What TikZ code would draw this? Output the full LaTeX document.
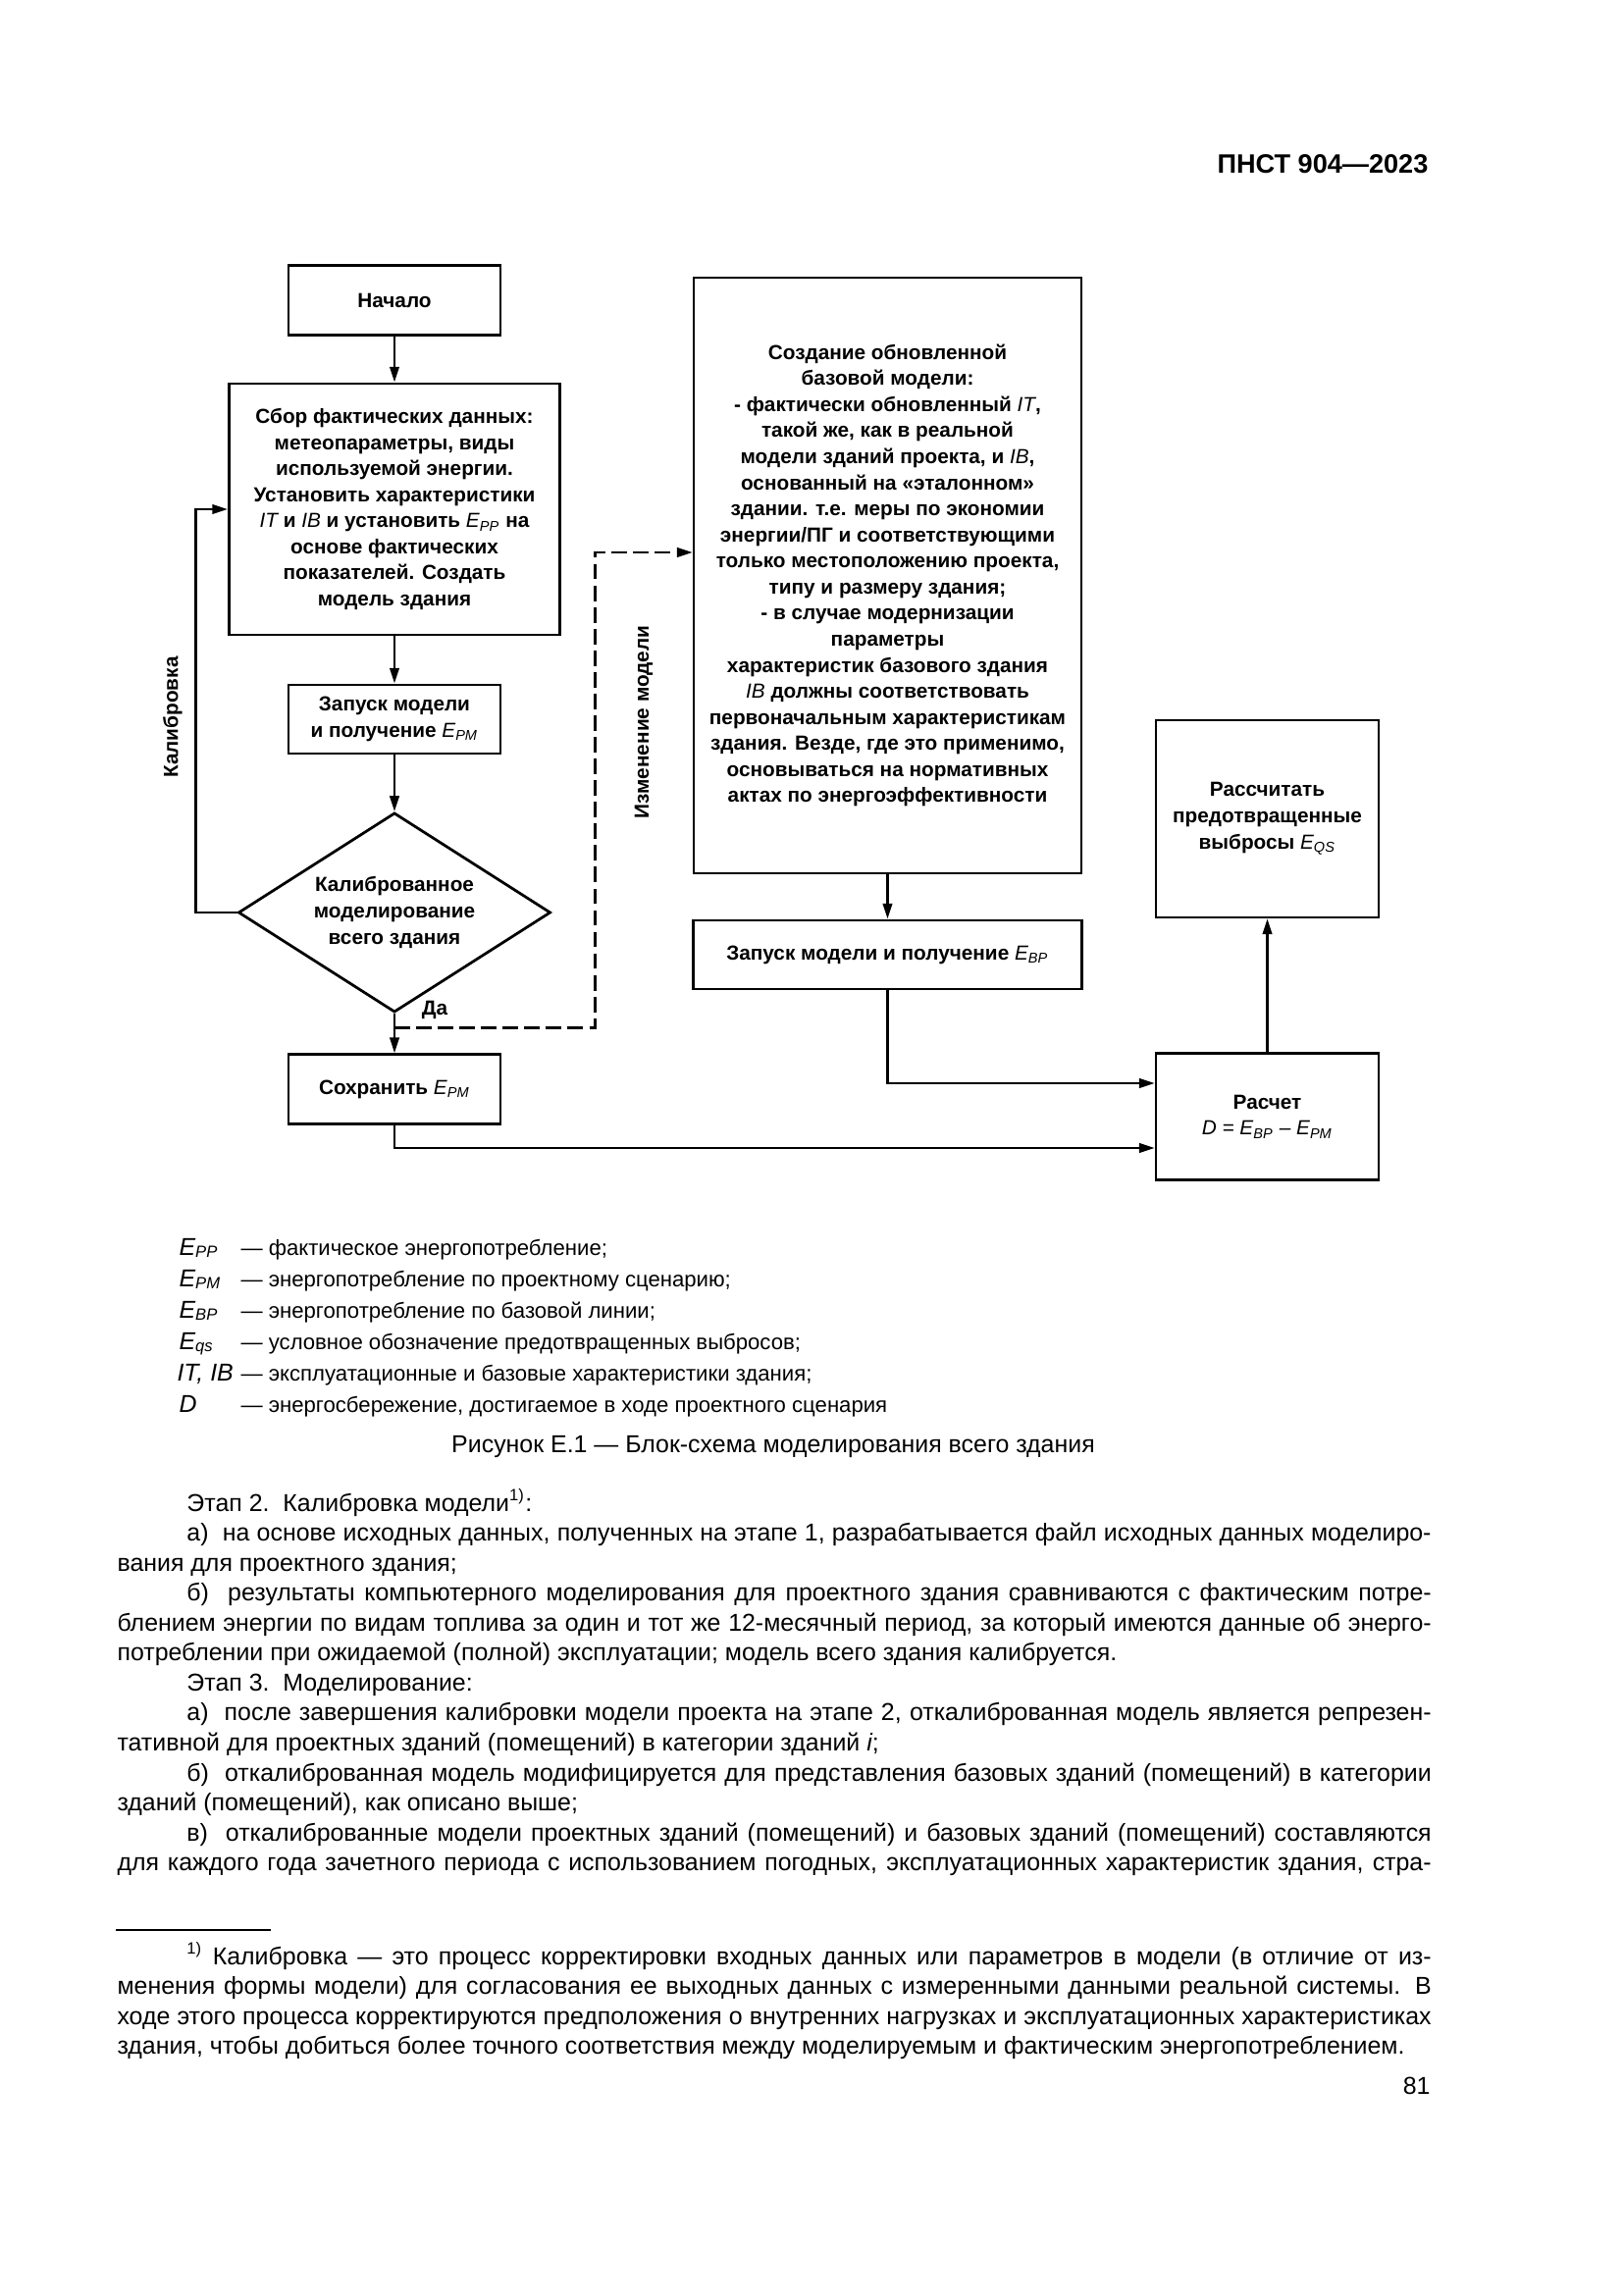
\documentclass[tikz,border=0pt]{standalone}
\usepackage{fontspec}
\setmainfont{Liberation Sans}
\usetikzlibrary{arrows.meta, positioning, shapes.geometric, calc}

\newcommand\flowfont{\fontsize{7.5}{9.6}\selectfont\bfseries}
\newcommand\bodyfont{\fontsize{9}{11.04}\selectfont}
\newcommand\legfont{\fontsize{8}{10}\selectfont}
\newcommand\sym[2]{{\mdseries\itshape #1\textsubscript{#2}}}
\newcommand\iv[1]{{\mdseries\itshape #1}}
\newdimen\textw \textw=170mm
\newdimen\bodyindent \bodyindent=9mm
\newcommand\fline[1]{\hbox to\textw{#1}}
\newcommand\iline[1]{\hbox to\textw{\hskip\bodyindent\relax #1}}
\newcommand\lline[1]{\hbox{#1}}
\newcommand\ilast[1]{\hbox{\hskip\bodyindent\relax #1}}

\tikzset{
  box/.style={draw, line width=1pt, align=center, inner sep=0pt, font=\flowfont},
  arr/.style={line width=0.9pt, -{Triangle[length=2mm,width=1.2mm]}},
  dasharr/.style={arr, dash pattern=on 2mm off 0.8mm},
  label/.style={font=\flowfont, inner sep=0pt},
  legsym/.style={anchor=base west, inner sep=0pt, font=\bodyfont},
  legtext/.style={anchor=base west, inner sep=0pt, font=\legfont},
}

\begin{document}
\begin{tikzpicture}[x=0.12696mm, y=-0.12696mm]
  \fill[white] (0,0) rectangle (1654,2339);
  \path[use as bounding box] (0,0) rectangle (1654,2339);

  % page header
  \node[anchor=base east, inner sep=0pt, font=\fontsize{9.8}{12}\selectfont\bfseries] (head) at (1456,177) {ПНСТ 904—2023};

  % left column
  \node[box, minimum width=27.4mm, minimum height=9mm] (start) at (402,306) {Начало};
  \node[box, minimum width=42.8mm, minimum height=32.5mm] (collect) at (402,519)
    {Сбор фактических данных:\\метеопараметры, виды\\используемой энергии.\\Установить характеристики\\\iv{IT} и \iv{IB} и установить \sym{E}{PP} на\\основе фактических\\показателей. Создать\\модель здания};
  \node[box, minimum width=27.4mm, minimum height=8.9mm] (runpm) at (402,733) {Запуск модели\\и получение \sym{E}{PM}};
  \node[box, diamond, aspect=1.57, minimum width=40.4mm, minimum height=25.8mm] (calib) at (402,930)
    {Калиброванное\\моделирование\\всего здания};
  \node[box, minimum width=27.4mm, minimum height=9mm] (save) at (402,1110) {Сохранить \sym{E}{PM}};

  % right column
  \node[box, line width=0.8pt, minimum width=50.2mm, minimum height=77.1mm] (base) at (904.5,586.5)
    {Создание обновленной\\базовой модели:\\- фактически обновленный \iv{IT},\\такой же, как в реальной\\модели зданий проекта, и \iv{IB},\\основанный на «эталонном»\\здании. т.е. меры по экономии\\энергии/ПГ и соответствующими\\только местоположению проекта,\\типу и размеру здания;\\- в случае модернизации\\параметры\\характеристик базового здания\\\iv{IB} должны соответствовать\\первоначальным характеристикам\\здания. Везде, где это применимо,\\основываться на нормативных\\актах по энергоэффективности};
  \node[box, minimum width=50.2mm, minimum height=8.9mm] (runbp) at (904.5,973) {Запуск модели и получение \sym{E}{BP}};
  \node[box, minimum width=28.8mm, minimum height=25.5mm] (avoid) at (1291.5,834.5) {Рассчитать\\предотвращенные\\выбросы \sym{E}{QS}};
  \node[box, minimum width=28.8mm, minimum height=16.3mm] (diff) at (1291.5,1138)
    {Расчет\\{\mdseries\itshape D = E\textsubscript{BP} – E\textsubscript{PM}}};

  % labels
  \node[label, rotate=90] (callab) at (176,731) {Калибровка};
  \node[label, rotate=90] (modlab) at (656,736) {Изменение модели};
  \node[label] (yes) at (443,1029) {Да};

  % connectors
  \draw[arr] (start) -- (collect);
  \draw[arr] (collect) -- (runpm);
  \draw[arr] (runpm) -- (calib);
  \draw[arr] (calib) -- (save);
  \draw[arr] (calib.west) -- ++(-42,0) |- (collect.west);
  \coordinate (branch) at ($(calib.south)!0.36!(save.north)$);
  \coordinate (modin) at (base.west |- 0,563);
  \draw[dasharr] (branch) -| ($(modin)+(-99,0)$) -- (modin);
  \draw[arr] (base) -- (runbp);
  \coordinate (bpin) at (diff.west |- 0,1104);
  \coordinate (pmin) at (diff.west |- 0,1170);
  \draw[arr] (runbp.south) |- (bpin);
  \draw[arr] (save.south) |- (pmin);
  \draw[arr] (diff) -- (avoid);

  % legend
  \node[legsym] (lpp) at (182,1279) {\sym{E}{PP}};
  \node[legtext] (lppt) at (245,1279) {— фактическое энергопотребление;};
  \node[legsym] (lpm) at (182,1311) {\sym{E}{PM}};
  \node[legtext] (lpmt) at (245,1311) {— энергопотребление по проектному сценарию;};
  \node[legsym] (lbp) at (182,1343) {\sym{E}{BP}};
  \node[legtext] (lbpt) at (245,1343) {— энергопотребление по базовой линии;};
  \node[legsym] (lqs) at (182,1375) {\sym{E}{qs}};
  \node[legtext] (lqst) at (245,1375) {— условное обозначение предотвращенных выбросов;};
  \node[legsym] (lit) at (180,1407) {\iv{IT, IB}};
  \node[legtext] (litt) at (245,1407) {— эксплуатационные и базовые характеристики здания;};
  \node[legsym] (ld) at (182,1439) {\iv{D}};
  \node[legtext] (ldt) at (245,1439) {— энергосбережение, достигаемое в ходе проектного сценария};

  % caption
  \node[anchor=base, inner sep=0pt, font=\bodyfont] (caption) at (788,1480)
    {Рисунок Е.1 — Блок-схема моделирования всего здания};

  % body text
  \node[anchor=base west, inner sep=0pt, font=\bodyfont] (body) at (119,1540) {\vtop{%
    \ilast{Этап 2.\ \ Калибровка модели\textsuperscript{1)}:}
    \iline{а)\ \ на основе исходных данных, полученных на этапе 1, разрабатывается файл исходных данных моделиро-}
    \lline{вания для проектного здания;}
    \iline{б)\ \ результаты компьютерного моделирования для проектного здания сравниваются с фактическим потре-}
    \fline{блением энергии по видам топлива за один и тот же 12-месячный период, за который имеются данные об энерго-}
    \lline{потреблении при ожидаемой (полной) эксплуатации; модель всего здания калибруется.}
    \ilast{Этап 3.\ \ Моделирование:}
    \iline{а)\ \ после завершения калибровки модели проекта на этапе 2, откалиброванная модель является репрезен-}
    \lline{тативной для проектных зданий (помещений) в категории зданий \iv{i};}
    \iline{б)\ \ откалиброванная модель модифицируется для представления базовых зданий (помещений) в категории}
    \lline{зданий (помещений), как описано выше;}
    \iline{в)\ \ откалиброванные модели проектных зданий (помещений) и базовых зданий (помещений) составляются}
    \fline{для каждого года зачетного периода с использованием погодных, эксплуатационных характеристик здания, стра-}}};

  % footnote
  \draw[line width=0.8pt] (118,1967) -- (276,1967);
  \node[anchor=base west, inner sep=0pt, font=\bodyfont] (foot) at (119,2002) {\vtop{%
    \iline{\textsuperscript{1)} Калибровка — это процесс корректировки входных данных или параметров в модели (в отличие от из-}
    \fline{менения формы модели) для согласования ее выходных данных с измеренными данными реальной системы. В}
    \fline{ходе этого процесса корректируются предположения о внутренних нагрузках и эксплуатационных характеристиках}
    \lline{здания, чтобы добиться более точного соответствия между моделируемым и фактическим энергопотреблением.}}};

  % page number
  \node[anchor=base east, inner sep=0pt, font=\bodyfont] (pagenum) at (1458,2134) {81};
\end{tikzpicture}
\end{document}
